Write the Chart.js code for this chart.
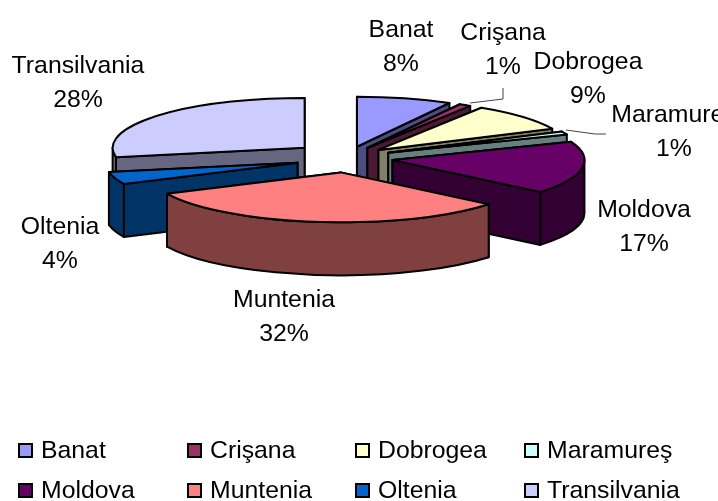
<!DOCTYPE html>
<html>
<head>
<meta charset="utf-8">
<script src="https://cdn.jsdelivr.net/npm/chart.js@4"></script>
<style>
  html, body { margin: 0; padding: 0; background: #fff; overflow: hidden; }
  canvas { display: block; }
</style>
</head>
<body>
<canvas id="canvas" width="718" height="501"></canvas>
<script>
const categories = ['Banat', 'Crişana', 'Dobrogea', 'Maramureş', 'Moldova', 'Muntenia', 'Oltenia', 'Transilvania'];
const values = [8, 1, 9, 1, 17, 32, 4, 28];
const topColors = ['#9999FF', '#993366', '#FFFFCC', '#CCFFFF', '#660066', '#FF8080', '#0066CC', '#CCCCFF'];
const sideColors = ['#4C4C80', '#4D1A33', '#808066', '#668080', '#330033', '#804040', '#003366', '#666680'];
const explode = [40, 40, 42, 45, 46, 50, 52, 55];

// label centres, name line then percent line
const labelX = [401, 503, 588, 674, 644, 284, 60, 78];
const labelY = [28, 31, 60, 113, 208, 298, 225, 64];
const legendX = [18, 187, 355, 524];
const legendY = [450, 490];

const squash = 0.26;
const explodeSquash = 0.29;
const depth = 53;
const font = '24.8px "Liberation Sans", Arial, sans-serif';

const pie3d = {
    id: 'pie3d',
    beforeDatasetsDraw(chart) {
        const ctx = chart.ctx;
        const arcs = chart.getDatasetMeta(0).data.map((arc, i) => {
            const p = arc.getProps(['x', 'y', 'startAngle', 'endAngle', 'outerRadius'], true);
            const mid = (p.startAngle + p.endAngle) / 2;
            const off = arc.options.offset;
            return {
                i, mid, r: p.outerRadius, start: p.startAngle, end: p.endAngle,
                cx: p.x + Math.cos(mid) * off,
                cy: p.y + Math.sin(mid) * off * explodeSquash
            };
        });
        // paint from the back of the pie to the front
        arcs.sort((a, b) => Math.sin(a.mid) - Math.sin(b.mid));

        ctx.save();
        ctx.lineWidth = 2;
        ctx.lineJoin = 'round';
        ctx.strokeStyle = '#000';
        arcs.forEach(s => {
            const ry = s.r * squash;
            const rim = t => [s.cx + Math.cos(t) * s.r, s.cy + Math.sin(t) * ry];

            ctx.fillStyle = sideColors[s.i];
            // the cut face with the lower rim point is the one that faces us, it goes last
            [s.start, s.end].sort((a, b) => rim(a)[1] - rim(b)[1]).forEach(t => {
                const [x, y] = rim(t);
                ctx.beginPath();
                ctx.moveTo(s.cx, s.cy);
                ctx.lineTo(x, y);
                ctx.lineTo(x, y + depth);
                ctx.lineTo(s.cx, s.cy + depth);
                ctx.closePath();
                ctx.fill();
                ctx.stroke();
            });

            const a = Math.max(s.start, 0);
            const b = Math.min(s.end, Math.PI);
            if (a < b) {
                ctx.beginPath();
                ctx.ellipse(s.cx, s.cy, s.r, ry, 0, a, b);
                ctx.ellipse(s.cx, s.cy + depth, s.r, ry, 0, b, a, true);
                ctx.closePath();
                ctx.fill();
                ctx.stroke();
            }

            ctx.fillStyle = topColors[s.i];
            ctx.beginPath();
            ctx.moveTo(s.cx, s.cy);
            ctx.ellipse(s.cx, s.cy, s.r, ry, 0, s.start, s.end);
            ctx.closePath();
            ctx.fill();
            ctx.stroke();
        });
        ctx.restore();
        return false;
    },
    afterDraw(chart) {
        const ctx = chart.ctx;
        ctx.save();

        // leader lines for the two thin slices
        ctx.strokeStyle = '#444';
        ctx.lineWidth = 1;
        ctx.beginPath();
        ctx.moveTo(470, 103);
        ctx.lineTo(503, 99);
        ctx.lineTo(503, 88);
        ctx.moveTo(566, 130);
        ctx.lineTo(595, 134);
        ctx.lineTo(606, 134);
        ctx.stroke();

        ctx.font = font;
        ctx.fillStyle = '#000';
        ctx.textBaseline = 'alphabetic';
        ctx.textAlign = 'center';
        categories.forEach((name, i) => {
            ctx.fillText(name, labelX[i], labelY[i] + 9);
            ctx.fillText(values[i] + '%', labelX[i], labelY[i] + 43);
        });

        ctx.textAlign = 'left';
        categories.forEach((name, i) => {
            const x = legendX[i % 4];
            const y = legendY[Math.floor(i / 4)];
            ctx.fillStyle = topColors[i];
            ctx.fillRect(x + 1, y - 6, 13, 13);
            ctx.strokeStyle = '#000';
            ctx.lineWidth = 2;
            ctx.strokeRect(x + 1, y - 6, 13, 13);
            ctx.fillStyle = '#000';
            ctx.fillText(name, x + 23, y + 8);
        });
        ctx.restore();
    }
};

new Chart(document.getElementById('canvas').getContext('2d'), {
    type: 'pie',
    data: {
        labels: categories,
        datasets: [{
            data: values,
            backgroundColor: topColors,
            borderColor: '#000',
            borderWidth: 2,
            offset: explode
        }]
    },
    options: {
        responsive: false,
        animation: false,
        events: [],
        radius: 192,
        layout: { padding: { right: 24, bottom: 185 } },
        plugins: {
            legend: { display: false },
            title: { display: false },
            tooltip: { enabled: false }
        }
    },
    plugins: [pie3d]
});
</script>
</body>
</html>
